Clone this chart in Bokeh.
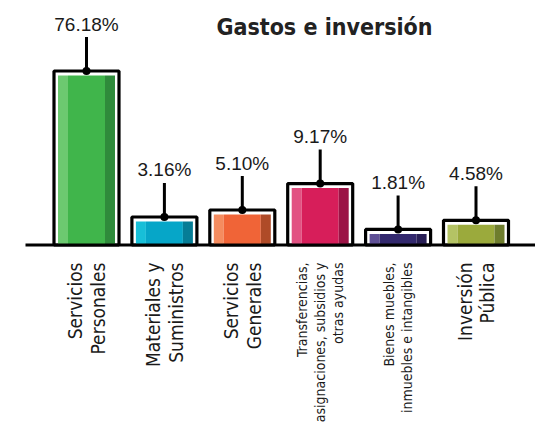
import math
from bokeh.plotting import figure
from bokeh.models import ColumnDataSource, Range1d, Label
from bokeh.core.properties import value
from bokeh.transform import dodge
from bokeh.embed import file_html
from bokeh.resources import INLINE

# ---- data ----
categories = [
    "Servicios\nPersonales",
    "Materiales y\nSuministros",
    "Servicios\nGenerales",
    "Transferencias,\nasignaciones, subsidios y\notras ayudas",
    "Bienes muebles,\ninmuebles e intangibles",
    "Inversión\nPública",
]
shares = [76.18, 3.16, 5.10, 9.17, 1.81, 4.58]
# heights of the bars as drawn in the infographic (not proportional to the shares)
drawn_heights = [76.18, 12.26, 15.32, 26.9, 6.8, 10.8]
small_label = [False, False, False, True, True, False]

light_colors = ["#6CC970", "#17BFD8", "#F58C5F", "#E25283", "#5F5096", "#B4C364"]
main_colors = ["#40B54B", "#06A6C8", "#F06437", "#D71E5A", "#33296E", "#9BAA3C"]
dark_colors = ["#2F8B3B", "#067D96", "#AF4B28", "#9B1446", "#281E55", "#6E7D2D"]

xs = list(range(len(categories)))
value_labels = ["%.2f%%" % s for s in shares]

W, H = 535, 429
PX_X = 77.9           # px per category
PX_Y = 174 / 76.18    # px per drawn unit
BASE = 244.5          # baseline position from top (px)
x0 = -86 / PX_X
y_top = BASE / PX_Y
y_bot = (BASE - H) / PX_Y

p = figure(width=W, height=H, output_backend="svg", toolbar_location=None,
           x_range=Range1d(x0, x0 + W / PX_X), y_range=Range1d(y_bot, y_top),
           min_border=0, outline_line_color=None, tools="")
p.xaxis.visible = False
p.yaxis.visible = False
p.grid.visible = False
p.background_fill_color = "white"
p.border_fill_color = "white"

frame_hw = 32.5 / PX_X
fill_hw = 28.5 / PX_X
stripe = 10 / PX_X
inset_top = 4.5 / PX_Y
lead = 34 / PX_Y
gap = 13 / PX_Y

src = ColumnDataSource(dict(
    x=xs,
    h=drawn_heights,
    fill_top=[h - inset_top for h in drawn_heights],
    lead_top=[h + lead for h in drawn_heights],
    lab_y=[h + lead + gap for h in drawn_heights],
    light=light_colors, main=main_colors, dark=dark_colors,
    lab=value_labels,
))

# frames
p.quad(left=dodge("x", -frame_hw), right=dodge("x", frame_hw), bottom=0, top="h",
       source=src, fill_color="white", line_color="black", line_width=3.2)
# stripes
p.quad(left=dodge("x", -fill_hw), right=dodge("x", -fill_hw + stripe), bottom=0, top="fill_top",
       source=src, fill_color="light", line_color=None)
p.quad(left=dodge("x", -fill_hw + stripe), right=dodge("x", fill_hw - stripe), bottom=0, top="fill_top",
       source=src, fill_color="main", line_color=None)
p.quad(left=dodge("x", fill_hw - stripe), right=dodge("x", fill_hw), bottom=0, top="fill_top",
       source=src, fill_color="dark", line_color=None)

# baseline
p.segment(x0=[x0 + 25 / PX_X], x1=[x0 + W / PX_X], y0=[0], y1=[0], line_color="black", line_width=3)

# leader lines + dots
p.segment(x0="x", x1="x", y0="h", y1="lead_top", source=src, line_color="black", line_width=3)
p.scatter(x="x", y="h", source=src, size=8, fill_color="black", line_color=None)

# value labels
p.text(x="x", y="lab_y", text="lab", source=src, text_align="center", text_baseline="middle",
       text_font=value("Liberation Sans"), text_font_size="19px", text_color="#1a1a1a")

# category labels
lab_y = (BASE - 262) / PX_Y
big = ColumnDataSource(dict(x=[x for x, s in zip(xs, small_label) if not s],
                            t=[c for c, s in zip(categories, small_label) if not s]))
sm = ColumnDataSource(dict(x=[x for x, s in zip(xs, small_label) if s],
                           t=[c for c, s in zip(categories, small_label) if s]))
font = value("DejaVu Sans Condensed")
p.text(x="x", y=lab_y, text="t", source=big, angle=math.pi / 2, text_align="right",
       text_baseline="middle", text_font=font, text_font_size="19px", text_line_height=1.02,
       text_color="#1a1a1a")
p.text(x="x", y=lab_y, text="t", source=sm, angle=math.pi / 2, text_align="right",
       text_baseline="middle", text_font=font, text_font_size="14px", text_line_height=1.12,
       text_color="#1a1a1a")

# title
p.add_layout(Label(x=216, y=H - 26.5, x_units="screen", y_units="screen", text="Gastos e inversión",
                   text_font="DejaVu Sans Condensed", text_font_style="bold",
                   text_font_size="23px", text_color="#222222", text_baseline="middle"))

open("out.html", "w").write(file_html(p, INLINE))
